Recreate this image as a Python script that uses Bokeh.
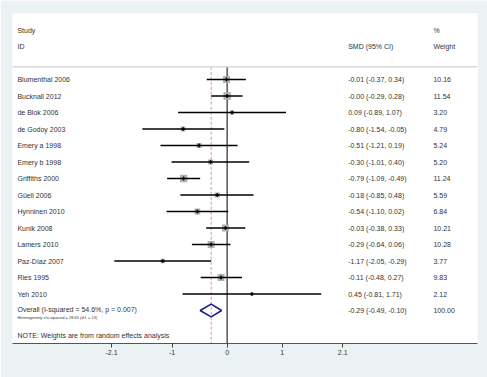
from bokeh.plotting import figure
from bokeh.models import Range1d, FixedTicker, Span, Label, ColumnDataSource
from bokeh.core.properties import value
from bokeh.embed import file_html
from bokeh.resources import INLINE

studies = ["Blumenthal 2006", "Bucknall 2012", "de Blok 2006", "de Godoy 2003",
           "Emery a 1998", "Emery b 1998", "Griffiths 2000", "Güell 2006",
           "Hynninen 2010", "Kunik 2008", "Lamers 2010", "Paz-Díaz 2007",
           "Ries 1995", "Yeh 2010"]
smd = [-0.01, -0.0, 0.09, -0.80, -0.51, -0.30, -0.79, -0.18, -0.54, -0.03, -0.29, -1.17, -0.11, 0.45]
ci_lo = [-0.37, -0.29, -0.89, -1.54, -1.21, -1.01, -1.09, -0.85, -1.10, -0.38, -0.64, -2.05, -0.48, -0.81]
ci_hi = [0.34, 0.28, 1.07, -0.05, 0.19, 0.40, -0.49, 0.48, 0.02, 0.33, 0.06, -0.29, 0.27, 1.71]
weights = [10.16, 11.54, 3.20, 4.79, 5.24, 5.20, 11.24, 5.59, 6.84, 10.21, 10.28, 3.77, 9.83, 2.12]

overall_smd = -0.29
overall_lo = -0.49
overall_hi = -0.10
overall_weight = 100.00
i_squared = 54.6
p_het = 0.007
chi2 = 28.65
df = 13

tick_values = [-2.1, -1, 0, 1, 2.1]
tick_labels = ["-2.1", "-1", "0", "1", "2.1"]

FONT = value("Liberation Sans")
TXT = "#333333"

n = len(studies)
rows = list(range(n))
overall_row = n

p = figure(width=487, height=377, output_backend="svg", toolbar_location=None,
           x_range=Range1d(-3.9, 4.55), y_range=Range1d(16, -4),
           min_border_left=12, min_border_right=10, min_border_top=13, min_border_bottom=34)
p.border_fill_color = "#eaf2f3"
p.background_fill_color = "white"
p.outline_line_color = None
p.grid.visible = False
p.yaxis.visible = False

ax = p.xaxis[0]
ax.ticker = FixedTicker(ticks=tick_values)
ax.major_label_overrides = {v: l for v, l in zip(tick_values, tick_labels)}
ax.minor_tick_line_color = None
ax.major_tick_in = 0
ax.major_tick_out = 4
ax.major_tick_line_color = "#444444"
ax.axis_line_color = "#555555"
ax.major_label_text_font = "Liberation Sans"
ax.major_label_text_font_size = "7px"
ax.major_label_text_color = TXT
ax.major_label_standoff = 2

sep_y = -0.77
p.add_layout(Span(location=sep_y, dimension="width", line_color="#d9d9d9", line_width=1.5))

# reference lines
p.segment(x0=[0], y0=[sep_y], x1=[0], y1=[16], line_color="black", line_width=1)
p.segment(x0=[overall_smd], y0=[sep_y], x1=[overall_smd], y1=[16],
          line_color="#d29a9a", line_width=1, line_dash="3 2")

src = ColumnDataSource(dict(
    study=studies, smd=smd, lo=ci_lo, hi=ci_hi, w=weights, y=rows,
    size=[2.2 * (w ** 0.5) for w in weights],
    ci=[f"{s:.2f} ({l:.2f}, {h:.2f})" for s, l, h in zip(smd, ci_lo, ci_hi)],
    wt=[f"{w:.2f}" for w in weights],
))

p.scatter(x="smd", y="y", size="size", marker="square", fill_color="#b0b0b0",
          line_color=None, source=src)
p.segment(x0="lo", y0="y", x1="hi", y1="y", line_color="black", line_width=1.5, source=src)
p.scatter(x="smd", y="y", size=4, marker="diamond", fill_color="black",
          line_color="black", line_width=0.5, source=src)

# overall diamond
dh = 0.39
p.patch(x=[overall_lo, overall_smd, overall_hi, overall_smd],
        y=[overall_row, overall_row - dh, overall_row, overall_row + dh],
        fill_color=None, line_color="#1c1c86", line_width=1.5)

x_study = -3.81
x_ci = 2.2
x_wt = 3.75

p.text(x=x_study, y="y", text="study", source=src, text_font=FONT, text_font_size="7px",
       text_baseline="middle", text_color=TXT)
p.text(x=x_ci, y="y", text="ci", source=src, text_font=FONT, text_font_size="7px",
       text_baseline="middle", text_color=TXT)
p.text(x=x_wt, y="y", text="wt", source=src, text_font=FONT, text_font_size="7px",
       text_baseline="middle", text_color=TXT)

hdr = ColumnDataSource(dict(
    x=[x_study, x_study, x_ci, x_wt, x_wt],
    y=[-2.97, -2.0, -2.0, -2.97, -2.0],
    t=["Study", "ID", "SMD (95% CI)", "%", "Weight"],
))
p.text(x="x", y="y", text="t", source=hdr, text_font=FONT, text_font_size="7px",
       text_baseline="middle", text_color=TXT)

ov = ColumnDataSource(dict(
    x=[x_study, x_ci, x_wt],
    y=[overall_row - 0.05, overall_row, overall_row],
    t=[f"Overall  (I-squared = {i_squared}%, p = {p_het:.3f})",
       f"{overall_smd:.2f} ({overall_lo:.2f}, {overall_hi:.2f})",
       f"{overall_weight:.2f}"],
))
p.text(x="x", y="y", text="t", source=ov, text_font=FONT, text_font_size="7px",
       text_baseline="middle", text_color=TXT)
p.text(x=[x_study], y=[overall_row + 0.43],
       text=[f"Heterogeneity chi-squared =  {chi2:.2f} (d.f. = {df})"],
       text_font=FONT, text_font_size="4px", text_baseline="middle", text_color=TXT)
p.text(x=[x_study], y=[15.5], text=["NOTE: Weights are from random effects analysis"],
       text_font=FONT, text_font_size="7px", text_baseline="middle", text_color=TXT)

for xx, lab in [(-1.1, "Intervention"), (1.02, "Control")]:
    p.add_layout(Label(x=xx, y=17.27, text=lab, text_font="Liberation Sans",
                       text_font_size="7px", text_align="center", text_baseline="middle",
                       text_color=TXT))

open("out.html", "w").write(file_html(p, INLINE))
